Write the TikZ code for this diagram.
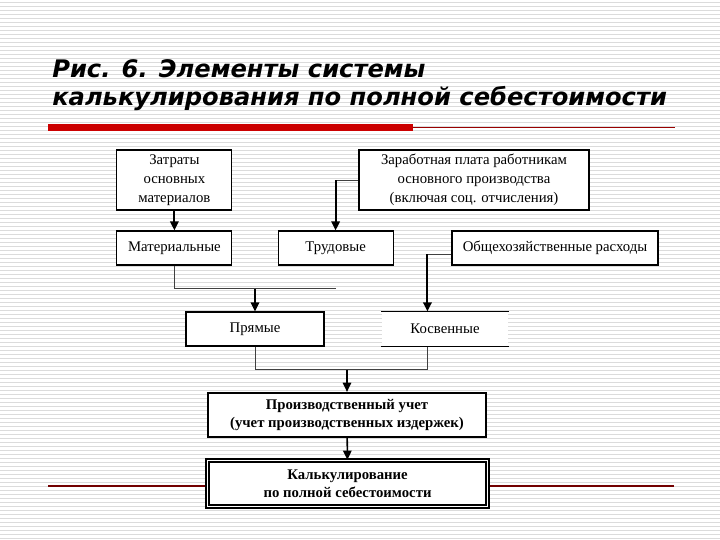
\documentclass[tikz,border=0pt]{standalone}
\usepackage{fontspec}
\setmainfont{Liberation Serif}
\newfontfamily\titlefont{DejaVu Sans}
\usetikzlibrary{arrows.meta,positioning,calc}

\begin{document}
\begin{tikzpicture}[
  font=\fontsize{10.5}{13.5}\selectfont,
  box/.style={draw, line width=0.8pt, fill=white, align=center, inner sep=1pt,
    minimum height=0.85cm},
  boldbox/.style={box, font=\fontsize{10.5}{13}\selectfont\bfseries},
  arr/.style={-{Triangle[length=6.5pt,width=6pt]}, line width=1.5pt},
  link/.style={line width=0.6pt, black!75},
  stripe/.style={black!14, line width=0.7pt}
]
\useasboundingbox (0,0) rectangle (18,-13.5);
% striped background
\fill[white] (0,0) rectangle (18,-13.5);
\foreach \i in {0,...,134}
  \draw[stripe] (0,-0.1*\i-0.05) -- (18,-0.1*\i-0.05);

\node[anchor=north west, align=left, inner sep=0pt,
  font=\titlefont\bfseries\itshape\fontsize{17.2}{20}\selectfont] (title) at (1.3,-1.47)
  {Рис. 6. Элементы системы\\калькулирования по полной себестоимости};
\fill[red!80!black] (1.2,-3.1) rectangle (10.325,-3.27);
\draw[red!60!black, line width=0.6pt] (10.325,-3.18) -- (16.875,-3.18);
\draw[red!45!black, line width=0.8pt] (1.2,-12.15) -- (16.85,-12.15);

\node[box, minimum width=2.875cm, minimum height=1.5cm] (zatr) at (4.36,-4.5) {Затраты\\основных\\материалов};
\node[box, minimum width=5.75cm, minimum height=1.5cm] (zarp) at (11.85,-4.5) {Заработная плата работникам\\основного производства\\(включая соц. отчисления)};
\node[box, minimum width=2.875cm] (mat) at (4.36,-6.2) {Материальные};
\node[box, minimum width=2.875cm] (trud) at (8.39,-6.2) {Трудовые};
\node[box, minimum width=5.15cm] (obsch) at (13.875,-6.2) {Общехозяйственные расходы};
\node[box, minimum width=3.45cm] (pryam) at (6.375,-8.225) {Прямые};
\node[box, draw=none, minimum width=3.15cm] (kosv) at (11.125,-8.225) {Косвенные};
\draw[line width=0.8pt] (kosv.north west) -- (kosv.north east) (kosv.south west) -- (kosv.south east);
\node[boldbox, line width=1.6pt, minimum width=6.95cm, minimum height=1.1cm] (proizv) at (8.675,-10.375) {Производственный учет\\(учет производственных издержек)};
\node[boldbox, double, double distance=1pt, line width=1.1pt, minimum width=7cm, minimum height=1.15cm] (kalk) at (8.69,-12.09) {Калькулирование\\по полной себестоимости};

\coordinate (j1) at (zarp.west -| trud.north);
\coordinate (j2) at ($(obsch.west)+(-0.6,-0.15)$);
\coordinate (j3) at ($(mat.south)+(0,-0.575)$);
\coordinate (j4) at ($(pryam.south)+(0,-0.575)$);

\draw[arr] (zatr) -- (mat);
\draw[link] (zarp.west) -- (j1);
\draw[arr] (j1) -- (trud);
\draw[link] (obsch.west |- j2) -- (j2);
\draw[arr] (j2) -- (j2 |- kosv.north);
\draw[link] (mat.south) -- (j3) -- (j3 -| trud.south);
\draw[arr] (j3 -| pryam.north) -- (pryam.north);
\draw[link] (pryam.south) -- (j4) -- (j4 -| j2) -- (j2 |- kosv.south);
\draw[arr, line width=1.1pt] (j4 -| proizv.north) -- (proizv.north);
\draw[arr, line width=1.1pt] (proizv) -- (kalk);
\end{tikzpicture}
\end{document}
